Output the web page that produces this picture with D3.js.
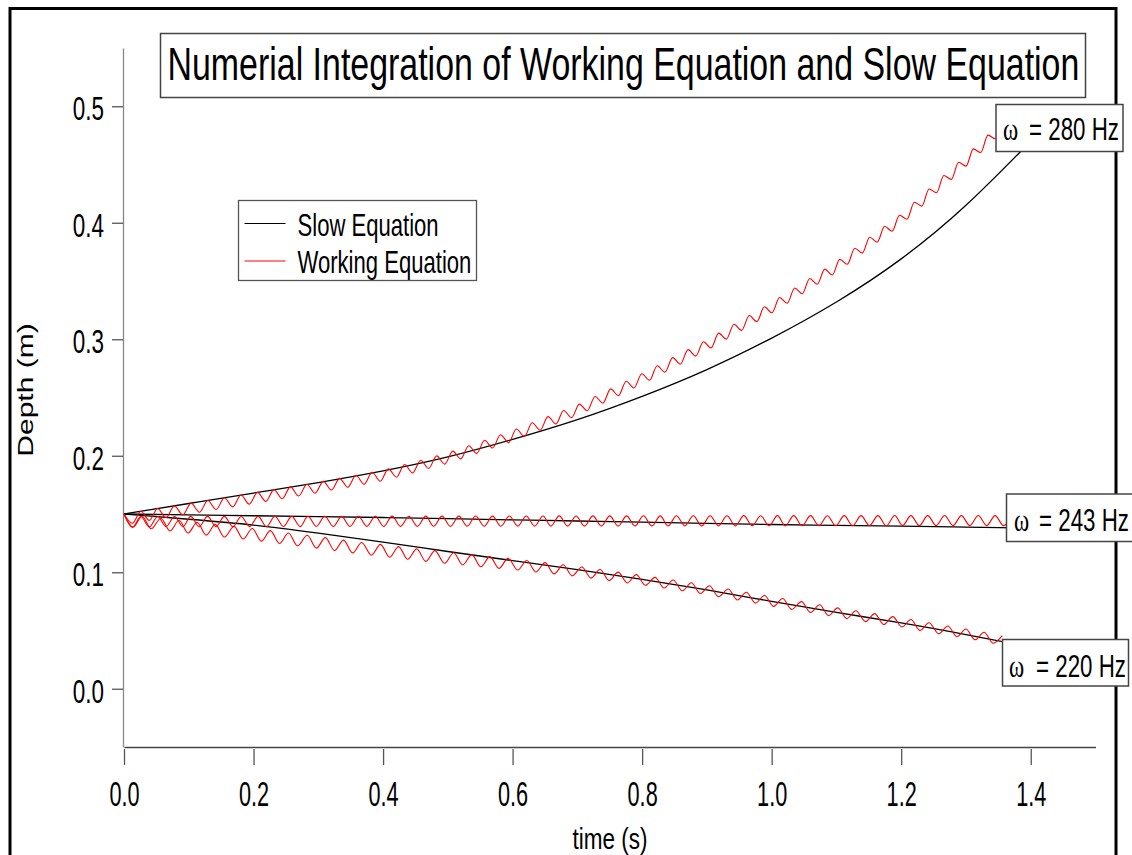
<!DOCTYPE html>
<html>
<head>
<meta charset="utf-8">
<script src="https://cdn.jsdelivr.net/npm/d3@7"></script>
<style>
  body { margin: 0; background: #fff; }
  svg text { font-family: "Liberation Sans", Arial, sans-serif; fill: #000; }
</style>
</head>
<body>
<script>
// Slow equation, sampled every 0.1 s (depth in m)
const slowTime = [0, 0.1, 0.2, 0.3, 0.4, 0.5, 0.6, 0.7, 0.8, 0.9, 1.0, 1.1, 1.2, 1.3, 1.4];
const slow280 = [0.150, 0.159, 0.168, 0.177, 0.187, 0.199, 0.214, 0.231, 0.251, 0.274, 0.301, 0.332, 0.369, 0.415, 0.470];
const slow243 = [0.150, 0.1492, 0.1485, 0.1478, 0.1470, 0.1460, 0.1450, 0.1440, 0.1430, 0.1420, 0.1410, 0.1403, 0.1396, 0.1388, 0.1380];
const slow220 = [0.150, 0.1455, 0.1405, 0.1335, 0.1258, 0.1178, 0.1100, 0.1022, 0.0938, 0.0848, 0.0750, 0.0655, 0.0565, 0.0465, 0.0358];

// Working equation: turning points of the ripple (time s / depth m)
const work280Time = [
  0, .0130, .0260, .0390, .0519, .0649, .0778, .0907, .1036, .1165,
  .1294, .1422, .1550, .1678, .1806, .1934, .2061, .2189, .2316, .2443,
  .2570, .2697, .2824, .2950, .3077, .3203, .3329, .3455, .3581, .3707,
  .3832, .3957, .4082, .4207, .4332, .4456, .4580, .4704, .4828, .4952,
  .5076, .5199, .5322, .5445, .5568, .5691, .5814, .5937, .6059, .6181,
  .6303, .6425, .6547, .6668, .6789, .6910, .7031, .7152, .7273, .7394,
  .7514, .7634, .7754, .7874, .7994, .8114, .8233, .8352, .8471, .8590,
  .8709, .8828, .8946, .9064, .9182, .9300, .9418, .9536, .9654, .9771,
  .9888, 1.0005, 1.0122, 1.0239, 1.0356, 1.0472, 1.0588, 1.0704, 1.0820, 1.0936,
  1.1052, 1.1168, 1.1284, 1.1399, 1.1514, 1.1629, 1.1744, 1.1859, 1.1974, 1.2089,
  1.2203, 1.2317, 1.2431, 1.2545, 1.2659, 1.2773, 1.2887, 1.3001, 1.3114, 1.3227,
  1.3340, 1.3453, 1.3566
];
const work280Depth = [
  .1500, .1420, .1523, .1445, .1547, .1468, .1570, .1492, .1593, .1515,
  .1616, .1538, .1640, .1561, .1663, .1584, .1686, .1608, .1709, .1631,
  .1733, .1654, .1756, .1678, .1780, .1706, .1806, .1729, .1832, .1755,
  .1858, .1781, .1887, .1816, .1925, .1853, .1962, .1891, .1999, .1928,
  .2040, .1973, .2086, .2020, .2133, .2066, .2180, .2113, .2229, .2166,
  .2283, .2219, .2336, .2273, .2389, .2327, .2443, .2386, .2509, .2452,
  .2574, .2516, .2639, .2581, .2704, .2648, .2772, .2717, .2842, .2786,
  .2911, .2855, .2979, .2926, .3053, .3001, .3129, .3076, .3204, .3151,
  .3279, .3227, .3358, .3309, .3440, .3390, .3521, .3472, .3602, .3552,
  .3686, .3644, .3781, .3739, .3876, .3833, .3970, .3927, .4064, .4030,
  .4176, .4143, .4290, .4257, .4405, .4372, .4519, .4486, .4634, .4603,
  .4752, .4721, .4875
];

const work243Time = [
  0, .013, .026, .039, .052, .065, .078, .091, .103, .116,
  .129, .142, .155, .168, .181, .194, .207, .220, .233, .246,
  .259, .272, .284, .297, .310, .323, .336, .349, .362, .375,
  .388, .401, .414, .427, .440, .453, .466, .478, .491, .504,
  .517, .530, .543, .556, .569, .582, .595, .608, .621, .634,
  .647, .659, .672, .685, .698, .711, .724, .737, .750, .763,
  .776, .789, .802, .815, .828, .840, .853, .866, .879, .892,
  .905, .918, .931, .944, .957, .970, .983, .996, 1.009, 1.021,
  1.034, 1.047, 1.060, 1.073, 1.086, 1.099, 1.112, 1.125, 1.138, 1.151,
  1.164, 1.177, 1.190, 1.202, 1.215, 1.228, 1.241, 1.254, 1.267, 1.280,
  1.293, 1.306, 1.319, 1.332, 1.345, 1.358, 1.371
];
const work243Depth = [
  .1500, .1385, .1478, .1389, .1479, .1391, .1479, .1391, .1480, .1392,
  .1480, .1392, .1480, .1391, .1479, .1392, .1480, .1392, .1481, .1393,
  .1480, .1392, .1481, .1393, .1481, .1393, .1480, .1393, .1481, .1394,
  .1481, .1393, .1482, .1394, .1481, .1394, .1482, .1395, .1482, .1394,
  .1482, .1395, .1483, .1395, .1482, .1395, .1483, .1396, .1483, .1395,
  .1483, .1396, .1484, .1396, .1483, .1396, .1484, .1397, .1484, .1396,
  .1484, .1397, .1485, .1397, .1484, .1397, .1485, .1398, .1485, .1397,
  .1485, .1398, .1485, .1398, .1486, .1398, .1485, .1399, .1486, .1398,
  .1486, .1399, .1486, .1399, .1485, .1399, .1486, .1399, .1486, .1400,
  .1486, .1399, .1487, .1400, .1486, .1400, .1486, .1400, .1487, .1400,
  .1486, .1400, .1487, .1400, .1486, .1400, .1486
];

const work220Time = [
  0, .014, .028, .042, .057, .071, .085, .099, .113, .127,
  .141, .155, .170, .184, .198, .212, .226, .240, .254, .268,
  .283, .297, .311, .325, .339, .353, .367, .382, .396, .410,
  .424, .438, .452, .466, .480, .495, .509, .523, .537, .551,
  .565, .579, .593, .608, .622, .636, .650, .664, .678, .692,
  .707, .721, .735, .749, .763, .777, .791, .805, .820, .834,
  .848, .862, .876, .890, .904, .918, .933, .947, .961, .975,
  .989, 1.003, 1.017, 1.031, 1.046, 1.060, 1.074, 1.088, 1.102, 1.116,
  1.130, 1.145, 1.159, 1.173, 1.187, 1.201, 1.215, 1.229, 1.243, 1.258,
  1.272, 1.286, 1.300, 1.314, 1.328, 1.342, 1.356
];
const work220Depth = [
  .1500, .1388, .1481, .1373, .1464, .1354, .1446, .1337, .1429, .1319,
  .1411, .1302, .1394, .1285, .1376, .1267, .1357, .1247, .1337, .1227,
  .1317, .1207, .1297, .1186, .1276, .1166, .1256, .1146, .1239, .1129,
  .1220, .1111, .1201, .1093, .1186, .1077, .1168, .1062, .1151, .1047,
  .1134, .1033, .1119, .1019, .1101, .1002, .1083, .0986, .1064, .0969,
  .1045, .0950, .1023, .0929, .1001, .0908, .0980, .0888, .0956, .0865,
  .0933, .0841, .0910, .0817, .0884, .0790, .0856, .0762, .0828, .0735,
  .0801, .0707, .0775, .0681, .0748, .0654, .0721, .0628, .0694, .0602,
  .0669, .0576, .0645, .0551, .0619, .0530, .0595, .0501, .0567, .0472,
  .0539, .0447, .0513, .0420, .0485, .0391, .0456
];

const xTicks = [0, 0.2, 0.4, 0.6, 0.8, 1.0, 1.2, 1.4];
const yTicks = [0, 0.1, 0.2, 0.3, 0.4, 0.5];
const seriesNames = ["Slow Equation", "Working Equation"];
const freqLabels = ["= 280 Hz", "= 243 Hz", "= 220 Hz"];

let width = 1132;
let height = 855;

let x = d3.scaleLinear().domain([0, 1.5]).range([124, 1095.5]);
let y = d3.scaleLinear().domain([-0.05, 0.55]).range([747, 48]);

let svg = d3
  .select("body")
  .append("svg")
  .attr("width", width)
  .attr("height", height);

// thick frame round the whole graph
svg
  .append("rect")
  .attr("x", 10)
  .attr("y", 8.5)
  .attr("width", 1106)
  .attr("height", 900)
  .attr("fill", "none")
  .attr("stroke", "#000")
  .attr("stroke-width", 3);

// x axis, ticks hang below the line
let gx = svg
  .append("g")
  .attr("transform", "translate(0,747)")
  .call(
    d3.axisBottom(x).tickValues(xTicks).tickFormat(d3.format(".1f")).tickSize(18).tickSizeOuter(0)
  );
gx.attr("font-family", null).attr("font-size", null);
gx.select(".domain").attr("stroke", "#444").attr("stroke-width", 1.3);
gx.selectAll(".tick line").attr("stroke", "#555").attr("stroke-width", 1.3).attr("y1", 2);
gx.selectAll(".tick text")
  .attr("y", null)
  .attr("dy", null)
  .attr("font-size", 35)
  .attr("transform", "translate(0,59) scale(0.62,1)");

// y axis
let gy = svg
  .append("g")
  .attr("transform", "translate(123,0)")
  .call(
    d3.axisLeft(y).tickValues(yTicks).tickFormat(d3.format(".1f")).tickSize(11).tickSizeOuter(0)
  );
gy.attr("font-family", null).attr("font-size", null);
gy.select(".domain").attr("stroke", "#888").attr("stroke-width", 1.3);
gy.selectAll(".tick line").attr("stroke", "#555").attr("stroke-width", 1.3);
gy.selectAll(".tick text")
  .attr("x", null)
  .attr("dy", null)
  .attr("font-size", 34)
  .attr("transform", "translate(-19,13.5) scale(0.66,1)");

// axis titles
svg
  .append("text")
  .attr("text-anchor", "middle")
  .attr("font-size", 30)
  .attr("transform", "translate(610,849) scale(0.75,1)")
  .text("time (s)");

svg
  .append("text")
  .attr("text-anchor", "middle")
  .attr("font-size", 30)
  .attr("transform", "translate(33,390) scale(0.75,1) rotate(-90)")
  .text("Depth (m)");

// curves
let slowLine = d3
  .line()
  .x((d) => x(d[0]))
  .y((d) => y(d[1]))
  .curve(d3.curveNatural);

let workLine = d3
  .line()
  .x((d) => x(d[0]))
  .y((d) => y(d[1]))
  .curve(d3.curveMonotoneX);

let slowSeries = [slow280, slow243, slow220].map((vals) =>
  slowTime.map((t, i) => [t, vals[i]])
);
let workSeries = [
  [work280Time, work280Depth],
  [work243Time, work243Depth],
  [work220Time, work220Depth],
].map(([ts, vs]) => ts.map((t, i) => [t, vs[i]]));

svg
  .append("g")
  .selectAll("path")
  .data(slowSeries)
  .enter()
  .append("path")
  .attr("d", slowLine)
  .attr("fill", "none")
  .attr("stroke", "#000")
  .attr("stroke-width", 1.3);

svg
  .append("g")
  .selectAll("path")
  .data(workSeries)
  .enter()
  .append("path")
  .attr("d", workLine)
  .attr("fill", "none")
  .attr("stroke", "#ff0000")
  .attr("stroke-width", 1.1);

// title box
svg
  .append("rect")
  .attr("x", 160.5)
  .attr("y", 33.5)
  .attr("width", 925)
  .attr("height", 64)
  .attr("fill", "#fff")
  .attr("stroke", "#444")
  .attr("stroke-width", 1.5);

let title = svg
  .append("text")
  .attr("font-size", 46)
  .text("Numerial Integration of Working Equation and Slow Equation");
// squeeze the title to the width of its box
let titleLen = title.node().getComputedTextLength();
title.attr("transform", "translate(167.5,80) scale(" + 912 / titleLen + ",1)");

// legend
let legend = svg.append("g").attr("transform", "translate(238.5,200.5)");
legend
  .append("rect")
  .attr("width", 238)
  .attr("height", 80)
  .attr("fill", "#fff")
  .attr("stroke", "#555")
  .attr("stroke-width", 1.3);

let legendRows = legend
  .selectAll("g")
  .data(seriesNames)
  .enter()
  .append("g")
  .attr("transform", (d, i) => "translate(0," + (23 + i * 37.5) + ")");

legendRows
  .append("line")
  .attr("x1", 6)
  .attr("x2", 47)
  .attr("stroke", (d, i) => (i === 0 ? "#000" : "#ff0000"))
  .attr("stroke-width", 1.2);

legendRows
  .append("text")
  .attr("font-size", 32)
  .attr("transform", "translate(59,12) scale(0.69,1)")
  .text((d) => d);

// frequency tags at the right end of each pair of curves
let tagBoxes = [
  { x: 996, y: 104.5, w: 127, h: 47, base: 139.5, omega: 1003, eq: 1029 },
  { x: 1006.5, y: 494, w: 140, h: 47.5, base: 530.5, omega: 1014, eq: 1039 },
  { x: 1002.5, y: 639.5, w: 126, h: 46.5, base: 676.5, omega: 1009, eq: 1036 },
];

let tags = svg
  .append("g")
  .selectAll("g")
  .data(freqLabels)
  .enter()
  .append("g");

tags
  .append("rect")
  .attr("x", (d, i) => tagBoxes[i].x)
  .attr("y", (d, i) => tagBoxes[i].y)
  .attr("width", (d, i) => tagBoxes[i].w)
  .attr("height", (d, i) => tagBoxes[i].h)
  .attr("fill", "#fff")
  .attr("stroke", "#444")
  .attr("stroke-width", 1.5);

tags
  .append("text")
  .attr("font-size", 32)
  .style("font-family", '"Liberation Serif", "Times New Roman", serif')
  .attr("transform", (d, i) => "translate(" + tagBoxes[i].omega + "," + tagBoxes[i].base + ") scale(0.72,1)")
  .text("ω");

tags
  .append("text")
  .attr("font-size", 31)
  .attr("transform", (d, i) => "translate(" + tagBoxes[i].eq + "," + tagBoxes[i].base + ") scale(0.72,1)")
  .text((d) => d);
</script>
</body>
</html>
